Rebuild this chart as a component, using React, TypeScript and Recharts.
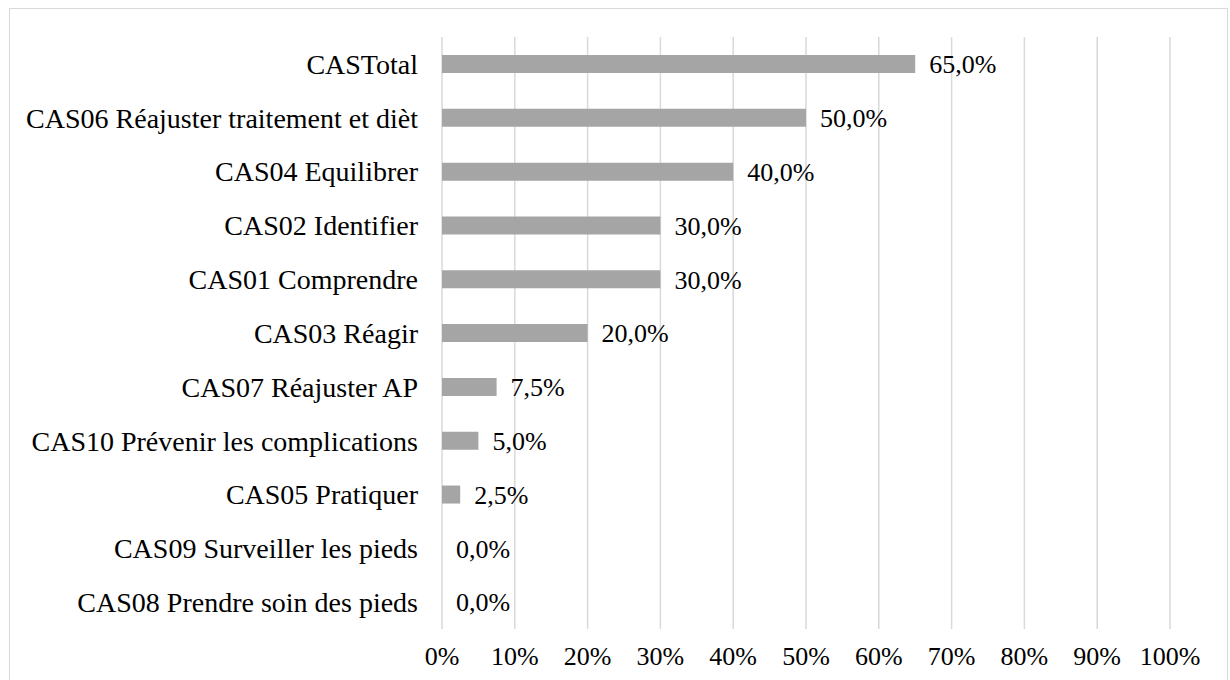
import React from "react";
import { BarChart, Bar, XAxis, YAxis, CartesianGrid, LabelList } from "recharts";

const categories = [
    "CASTotal",
    "CAS06 Réajuster traitement et dièt",
    "CAS04 Equilibrer",
    "CAS02 Identifier",
    "CAS01 Comprendre",
    "CAS03 Réagir",
    "CAS07 Réajuster AP",
    "CAS10 Prévenir les complications",
    "CAS05 Pratiquer",
    "CAS09 Surveiller les pieds",
    "CAS08 Prendre soin des pieds",
];

const percentValues = [65, 50, 40, 30, 30, 20, 7.5, 5, 2.5, 0, 0];

const xTicks = [0, 10, 20, 30, 40, 50, 60, 70, 80, 90, 100];

const FONT = "Liberation Serif";
const BAR_COLOR = "#a5a5a5";
const GRID_COLOR = "#d9d9d9";

export default function App() {
    const data = categories.map((name, i) => ({ name, value: percentValues[i] }));

    // comma decimals, like the original (French locale)
    const fmtLabel = (v: any) => `${Number(v).toFixed(1).replace(".", ",")}%`;

    return (
        <div
            style={{
                position: "absolute",
                left: 0,
                top: 0,
                width: 1230,
                height: 680,
                overflow: "hidden",
                background: "#fff",
                fontFamily: FONT,
            }}
        >
            <div
                style={{
                    position: "absolute",
                    left: 9,
                    top: 8,
                    width: 1219,
                    height: 700,
                    border: `1px solid ${GRID_COLOR}`,
                    boxSizing: "border-box",
                }}
            />
            <div style={{ position: "absolute", left: 0, top: 0 }}>
                <BarChart
                    width={1230}
                    height={680}
                    data={data}
                    layout="vertical"
                    margin={{ top: 37, right: 60, bottom: 21, left: 0 }}
                    style={{ fontFamily: FONT }}
                >
                    <CartesianGrid horizontal={false} vertical={true} stroke={GRID_COLOR} strokeWidth={1.5} />
                    <XAxis
                        type="number"
                        domain={[0, 100]}
                        ticks={xTicks}
                        tickFormatter={(v) => `${v}%`}
                        axisLine={false}
                        tickLine={false}
                        height={30}
                        tickSize={0}
                        tickMargin={18}
                        interval={0}
                        tick={{ fill: "#000", fontSize: 26, fontFamily: FONT }}
                    />
                    <YAxis
                        type="category"
                        dataKey="name"
                        width={442}
                        axisLine={false}
                        tickLine={false}
                        tickSize={0}
                        tickMargin={24}
                        interval={0}
                        tick={{ fill: "#000", fontSize: 28, fontFamily: FONT }}
                    />
                    <Bar
                        dataKey="value"
                        fill={BAR_COLOR}
                        barSize={18}
                        minPointSize={(v: any) => (Number(v) === 0 ? 0.01 : 0)}
                        isAnimationActive={false}
                    >
                        <LabelList
                            dataKey="value"
                            position="right"
                            offset={14}
                            formatter={fmtLabel}
                            style={{ fill: "#000", fontSize: 26, fontFamily: FONT }}
                        />
                    </Bar>
                </BarChart>
            </div>
        </div>
    );
}
